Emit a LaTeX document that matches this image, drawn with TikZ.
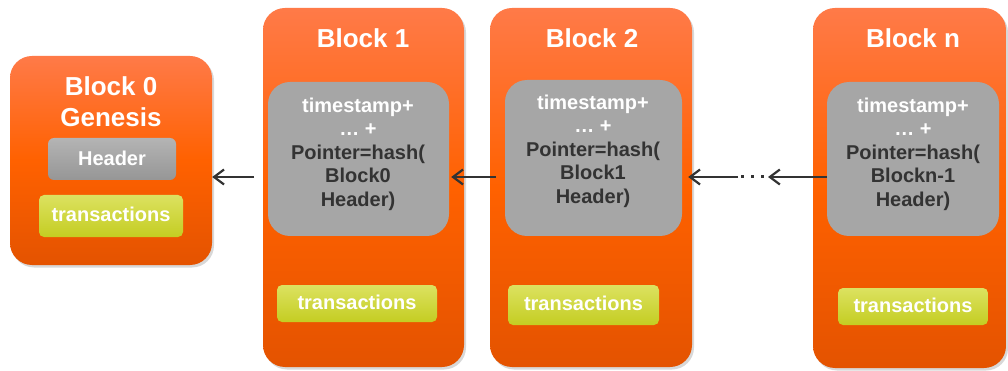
\documentclass[tikz,border=0pt]{standalone}
\usepackage{fontspec}
\setmainfont{Liberation Sans}
\usetikzlibrary{arrows.meta,shadows}
\definecolor{otop}{HTML}{FF7A48}
\definecolor{omid}{HTML}{FF6100}
\definecolor{obot}{HTML}{E45300}
\definecolor{gbox}{HTML}{A6A6A6}
\definecolor{htop}{HTML}{B4B4B4}
\definecolor{hbot}{HTML}{969696}
\definecolor{ttop}{HTML}{DCE260}
\definecolor{tbot}{HTML}{C4CD22}
\definecolor{dark}{HTML}{333333}
\tikzset{
  blockbox/.style={rounded corners=22pt, top color=otop, bottom color=obot, middle color=omid,
    draw=none, drop shadow={opacity=0.3, shadow xshift=2pt, shadow yshift=-2.5pt}},
  graybox/.style={rounded corners=22pt, fill=gbox, draw=none},
  headbox/.style={rounded corners=6pt, top color=htop, bottom color=hbot, draw=none},
  txbox/.style={rounded corners=5pt, top color=ttop, bottom color=tbot, draw=none},
  title/.style={font=\fontsize{26}{31}\selectfont\bfseries, text=white, align=center, inner sep=0pt},
  txlabel/.style={font=\fontsize{20}{24}\selectfont\bfseries, text=white, inner sep=0pt},
  inner/.style={font=\fontsize{20}{23.5}\selectfont\bfseries, text=dark, align=center, inner sep=0pt},
  arr/.style={draw=dark, line width=2.2pt, -{Straight Barb[length=10pt,width=15pt,line width=2.2pt]}},
  dots/.style={draw=dark, line width=3pt, dash pattern=on 3pt off 7pt},
}
\begin{document}
\begin{tikzpicture}[x=1pt,y=-1pt]
\useasboundingbox (0,0) rectangle (1008,371);
\fill[white] (0,0) rectangle (1008,371);
% Block 0
\node[blockbox, minimum width=202pt, minimum height=209pt] (b0) at (111,160.5) {};
\node[title] (b0t) at (111,101.5) {Block 0\\Genesis};
\node[headbox, minimum width=128pt, minimum height=42pt] (h0) at (112,159) {};
\node[txlabel] (h0l) at (112,158) {Header};
\node[txbox, minimum width=144pt, minimum height=42pt] (t0) at (111,216) {};
\node[txlabel] (t0l) at (111,214) {transactions};
% Block 1
\node[blockbox, minimum width=201pt, minimum height=359pt] (b1) at (363.5,187.5) {};
\node[title] (b1t) at (363,38) {Block 1};
\node[graybox, minimum width=181pt, minimum height=154pt] (g1) at (358.5,159) {};
\node[inner] (g1l) at (358,154) {\textcolor{white}{timestamp+}\\\textcolor{white}{… +}\\Pointer=hash(\\Block0\\Header)};
\node[txbox, minimum width=160pt, minimum height=37pt] (t1) at (357,303.5) {};
\node[txlabel] (t1l) at (357,302) {transactions};
% Block 2
\node[blockbox, minimum width=202pt, minimum height=359pt] (b2) at (591,187.5) {};
\node[title] (b2t) at (592,38) {Block 2};
\node[graybox, minimum width=177pt, minimum height=156pt] (g2) at (593.5,158) {};
\node[inner] (g2l) at (593,151) {\textcolor{white}{timestamp+}\\\textcolor{white}{… +}\\Pointer=hash(\\Block1\\Header)};
\node[txbox, minimum width=151pt, minimum height=40pt] (t2) at (583.5,305) {};
\node[txlabel] (t2l) at (583.5,303) {transactions};
% Block n
\node[blockbox, minimum width=193pt, minimum height=360pt] (bn) at (909.5,188) {};
\node[title] (bnt) at (913,38) {Block n};
\node[graybox, minimum width=172pt, minimum height=154pt] (gn) at (913,159) {};
\node[inner] (gnl) at (913,154) {\textcolor{white}{timestamp+}\\\textcolor{white}{… +}\\Pointer=hash(\\Blockn-1\\Header)};
\node[txbox, minimum width=150pt, minimum height=37pt] (tn) at (913,306.5) {};
\node[txlabel] (tnl) at (913,305) {transactions};
% arrows
\coordinate (a1s) at (254,177);
\draw[arr] (a1s) -- (a1s -| b0.east);
\coordinate (a2s) at (496,177);
\draw[arr] (a2s) -- ([xshift=2pt]a2s -| g1.east);
\coordinate (a3s) at (827,177);
\coordinate (d2) at (768,177);
\coordinate (d1) at (738,177);
\draw[arr] (a3s) -- (d2);
\draw[dots] ([xshift=3pt]d1) -- ([xshift=-4pt]d2);
\draw[arr] (d1) -- ([xshift=-4pt]d1 -| b2.east);
\end{tikzpicture}
\end{document}
